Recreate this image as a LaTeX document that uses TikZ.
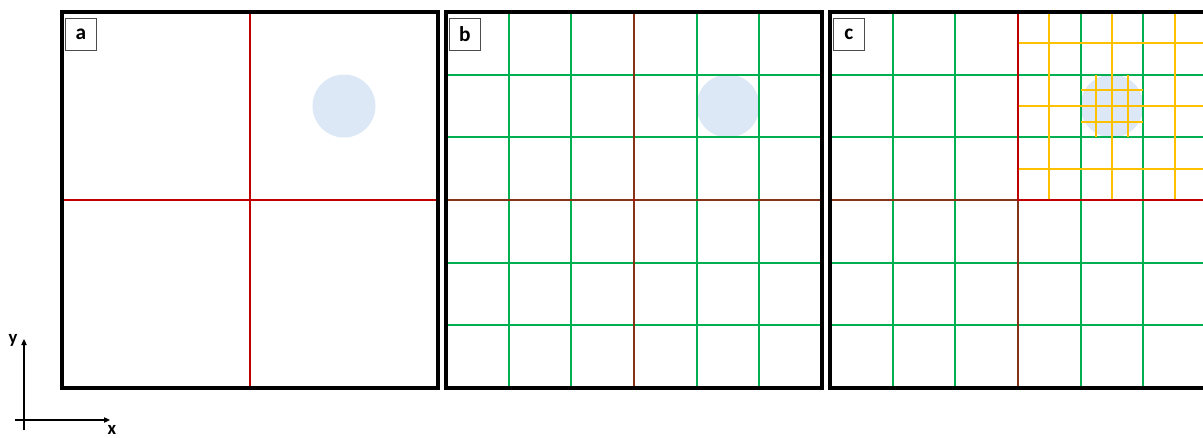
\documentclass[tikz,border=0pt]{standalone}
\usepackage{fontspec}
\setmainfont{Carlito}
\usetikzlibrary{arrows.meta}
\definecolor{gridred}{RGB}{192,0,0}
\definecolor{gridgreen}{RGB}{0,176,80}
\definecolor{gridyellow}{RGB}{255,192,0}
\definecolor{circblue}{RGB}{220,232,245}
\begin{document}
\begin{tikzpicture}[x=0.75pt,y=-0.75pt,
  redline/.style={gridred,line width=1.3pt},
  mixline/.style={gridred,line width=1.3pt,opacity=0.7},
  greenline/.style={gridgreen,line width=1.3pt},
  yellowline/.style={gridyellow,line width=1.3pt},
  frame/.style={black,line width=2.3pt},
  blob/.style={fill=circblue,draw=none},
  tag/.style={draw=black!70,line width=0.6pt,fill=white,minimum width=23.25pt,minimum height=24pt,inner sep=0pt,font=\fontsize{16}{16}\selectfont\bfseries,anchor=north west},
  axis/.style={black,line width=0.9pt,-{Triangle[length=4.5pt,width=4pt]}},
  axlabel/.style={font=\fontsize{14}{14}\selectfont\bfseries,inner sep=0pt}]
\useasboundingbox (0,0) rectangle (1203,437);
\clip (0,0) rectangle (1203,437);
\pgfmathsetmacro{\cs}{376/6}
\pgfmathsetmacro{\hs}{376/12}
\pgfmathsetmacro{\qs}{376/24}
% ---------- panel a ----------
\fill[blob] (62+282,12+94) circle (31.5);
\draw[redline] (250,12) -- (250,388);
\draw[redline] (62,200) -- (438,200);
\draw[frame] (62,12) rectangle (438,388);
\node[tag] (ta) at (65,18) {a};
% ---------- panel b ----------
\fill[blob] (446+282,12+94) circle (31.5);
\foreach \i in {1,...,5}{
  \pgfmathsetmacro{\vx}{round(446+\i*\cs)}
  \pgfmathsetmacro{\hy}{round(12+\i*\cs)}
  \draw[greenline] (\vx,12) -- (\vx,388);
  \draw[greenline] (446,\hy) -- (822,\hy);
}
\draw[mixline] (634,12) -- (634,388);
\draw[mixline] (446,200) -- (822,200);
\draw[frame] (446,12) rectangle (822,388);
\node[tag] (tb) at (449,18) {b};
% ---------- panel c ----------
\fill[blob] (830+282,12+94) circle (31.5);
\foreach \i in {1,...,5}{
  \pgfmathsetmacro{\vx}{round(830+\i*\cs)}
  \pgfmathsetmacro{\hy}{round(12+\i*\cs)}
  \draw[greenline] (\vx,12) -- (\vx,388);
  \draw[greenline] (830,\hy) -- (1206,\hy);
}
\draw[mixline] (1018,200) -- (1018,388);
\draw[mixline] (830,200) -- (1018,200);
% yellow refinement of the top-right quadrant
\foreach \i in {1,3,5}{
  \pgfmathsetmacro{\vx}{round(1018+\i*\hs)}
  \pgfmathsetmacro{\hy}{round(12+\i*\hs)}
  \draw[yellowline] (\vx,12) -- (\vx,200);
  \draw[yellowline] (1018,\hy) -- (1206,\hy);
}
% finer refinement around the circle
\foreach \i in {1,3}{
  \pgfmathsetmacro{\vx}{round(1018+\cs+\i*\qs)}
  \pgfmathsetmacro{\hy}{round(12+\cs+\i*\qs)}
  \draw[yellowline] (\vx,75) -- (\vx,137);
  \draw[yellowline] (1081,\hy) -- (1143,\hy);
}
\draw[redline] (1018,12) -- (1018,200);
\draw[redline] (1018,200) -- (1206,200);
\draw[frame] (830,12) rectangle (1206,388);
\node[tag] (tc) at (833,18) {c};
% ---------- axes ----------
\coordinate (yb) at (24,430);
\coordinate (yt) at (24,339);
\coordinate (xl) at (15,420);
\coordinate (xr) at (110,420);
\draw[axis] (yb) -- (yt);
\draw[axis] (xl) -- (xr);
\node[axlabel] (ly) at (13,340) {y};
\node[axlabel] (lx) at (112,429.5) {x};
\end{tikzpicture}
\end{document}
